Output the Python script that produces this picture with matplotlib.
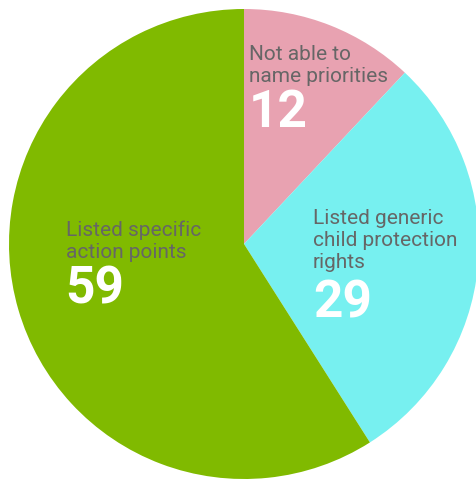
"""
Pie chart of how respondents described child protection priorities
"""
import matplotlib.pyplot as plt

labels = ["Not able to\nname priorities",
          "Listed generic\nchild protection\nrights",
          "Listed specific\naction points"]
values = [12, 29, 59]
colors = ["#e8a2b1", "#77f0f0", "#80ba00"]

W, H = 476, 482
CX, CY, R = 244, 244, 235


def px(x, y):
    # pixel position (from top-left) -> data coords of the unit pie
    return (x - CX) / R, (CY - y) / R


if __name__ == "__main__":
    fig = plt.figure(figsize=(W / 100, H / 100), dpi=100)
    ax = fig.add_axes([(CX - R) / W, (H - CY - R) / H, 2 * R / W, 2 * R / H])
    ax.pie(values, colors=colors, startangle=90, counterclock=False,
           radius=1, wedgeprops=dict(linewidth=0))
    ax.set_xlim(-1, 1)
    ax.set_ylim(-1, 1)
    ax.set_aspect("equal")
    ax.axis("off")

    # label text (last-line baseline) and number baseline, in pixels
    label_pos = [(249, 82), (313, 268), (66, 258)]
    number_pos = [(249, 127), (313, 317), (65, 303)]

    for lab, val, (lx, ly), (nx, ny) in zip(labels, values, label_pos, number_pos):
        x, y = px(lx, ly)
        ax.text(x, y, lab, ha="left", va="baseline", fontsize=15,
                family="Roboto", color="#666666", linespacing=1.2)
        x, y = px(nx, ny)
        ax.text(x, y, str(val), ha="left", va="baseline", fontsize=37,
                family="Roboto", weight="bold", color="white")

    plt.savefig("out.png", dpi=100)
